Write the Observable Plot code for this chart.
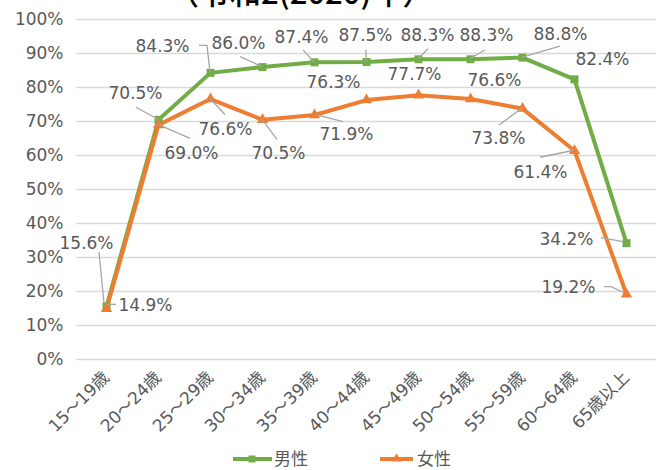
<!DOCTYPE html>
<html>
<head>
<meta charset="utf-8">
<script src="https://cdn.jsdelivr.net/npm/d3@7"></script>
<script src="https://cdn.jsdelivr.net/npm/@observablehq/plot@0.6"></script>
<style>
  html, body { margin: 0; padding: 0; background: #fff; }
  #wrap { position: relative; width: 665px; height: 470px; overflow: hidden; font-family: "DejaVu Sans", "Noto Sans CJK JP", sans-serif; }
  #title { position: absolute; left: 168px; top: -25px; font-family: "Noto Sans CJK JP", sans-serif; font-size: 31px; line-height: 31px; font-weight: 500; color: #000; white-space: nowrap; }
  #chart { position: absolute; left: 0; top: 0; }
  .leg { position: absolute; top: 447px; height: 22px; display: flex; align-items: center; font-family: "Noto Sans CJK JP", sans-serif; font-size: 17px; color: #595959; line-height: 22px; }
</style>
</head>
<body>
<div id="wrap">
  <div id="chart"></div>
  <div id="title">（令和2(2020)年）</div>
  <div class="leg" style="left:233px"><svg width="41" height="22"><line x1="0" x2="39" y1="12" y2="12" stroke="#70ad47" stroke-width="4"/><rect x="15.5" y="8.5" width="7" height="7" fill="#70ad47"/></svg><span>男性</span></div>
  <div class="leg" style="left:380px"><svg width="37" height="22"><line x1="0" x2="33" y1="12" y2="12" stroke="#ed7d31" stroke-width="4"/><path d="M16.5,6.5 L21.5,14.5 L11.5,14.5 Z" fill="#ed7d31"/></svg><span>女性</span></div>
</div>
<script>
// ---- data ----
const categories = ["15～19歳", "20～24歳", "25～29歳", "30～34歳", "35～39歳", "40～44歳", "45～49歳", "50～54歳", "55～59歳", "60～64歳", "65歳以上"];
const male   = [15.6, 70.5, 84.3, 86.0, 87.4, 87.5, 88.3, 88.3, 88.8, 82.4, 34.2];
const female = [14.9, 69.0, 76.6, 70.5, 71.9, 76.3, 77.7, 76.6, 73.8, 61.4, 19.2];
const yTicks = [0, 0.1, 0.2, 0.3, 0.4, 0.5, 0.6, 0.7, 0.8, 0.9, 1.0];

// ---- layout (pixel offsets of data labels and leader lines, relative to each point) ----
const maleLabelOffset   = [[-20,-63],[-23,-26],[-48,-26],[-24,-24],[-13,-25],[-1,-26],[9,-24],[16,-24],[38,-23],[28,-20],[-60,-4]];
const femaleLabelOffset = [[39,-3],[33,29],[15,30],[16,34],[32,20],[-33,-18],[-4,-21],[24,-19],[-24,30],[-34,22],[-58,-7]];
const maleLeader = [
  [[-2,-3],[-7,-54]],
  [[0,0],[-22,-12]],
  [[0,0],[-3,-27],[-11,-27]],
  [[0,0],[-22,-10]],
  [[0,0],[-11,-12]],
  [[0,0],[0,-12]],
  [[0,0],[10,-10]],
  [[0,0],[15,-9]],
  [[0,0],[38,-11]],
  null,
  [[-3,-1],[-25,-5]]
];
const femaleLeader = [
  [[1,-4],[10,-4]],
  [[0,0],[32,14]],
  [[0,0],[15,16]],
  [[0,0],[15,20]],
  [[2,0],[29,7]],
  null, null, null,
  [[0,0],[-23,17]],
  [[0,0],[-34,7]],
  [[-2,-1],[-15,-7],[-22,-7]]
];

const GREEN = "#70ad47", ORANGE = "#ed7d31", GRAY = "#595959";

function rows(series, name, offs, leaders) {
  return series.map((v, i) => ({cat: categories[i], v: v / 100, series: name, label: v.toFixed(1) + "%", dx: offs[i][0], dy: offs[i][1], leader: leaders[i]}));
}
const maleRows = rows(male, "男性", maleLabelOffset, maleLeader);
const femaleRows = rows(female, "女性", femaleLabelOffset, femaleLeader);

function leaderMark(data) {
  const d = data.filter(r => r.leader);
  return Plot.dot(d, {
    x: "cat", y: "v",
    render(index, scales, values, dims, context) {
      const ns = "http://www.w3.org/2000/svg";
      const doc = context.document;
      const g = doc.createElementNS(ns, "g");
      for (const i of index) {
        const pts = d[i].leader.map(([dx, dy]) => [values.x[i] + dx, values.y[i] + dy]);
        const p = doc.createElementNS(ns, "path");
        p.setAttribute("d", "M" + pts.map(q => q.join(",")).join("L"));
        p.setAttribute("fill", "none");
        p.setAttribute("stroke", "#a6a6a6");
        p.setAttribute("stroke-width", "1.3");
        g.appendChild(p);
      }
      return g;
    }
  });
}

function labelMarks(data) {
  return data.map(r => Plot.text([r], {x: "cat", y: "v", text: "label", dx: r.dx, dy: r.dy, fill: GRAY, fontSize: 17, textAnchor: "middle", lineAnchor: "middle"}));
}

const chart = Plot.plot({
  width: 665, height: 470,
  marginTop: 19, marginRight: 9, marginBottom: 111, marginLeft: 76,
  style: {fontFamily: "'DejaVu Sans', 'Noto Sans CJK JP', sans-serif", fontSize: "17px", color: GRAY, background: "transparent", overflow: "visible"},
  x: {type: "point", domain: categories, padding: 0.5, label: null},
  y: {domain: [0, 1], label: null},
  marks: [
    Plot.ruleY(yTicks, {stroke: "#d9d9d9", strokeWidth: 1.3}),
    Plot.axisY({ticks: yTicks, tickFormat: d3.format(".0%"), tickSize: 0, tickPadding: 13, fontSize: 17, fill: GRAY, label: null}),
    Plot.axisX({tickRotate: -45, tickSize: 0, tickPadding: 15, fontSize: 17, fill: GRAY, label: null}),
    Plot.line(maleRows, {x: "cat", y: "v", stroke: GREEN, strokeWidth: 4, strokeLinejoin: "round"}),
    Plot.line(femaleRows, {x: "cat", y: "v", stroke: ORANGE, strokeWidth: 4, strokeLinejoin: "round"}),
    Plot.dot(maleRows, {x: "cat", y: "v", symbol: "square", r: 4.5, fill: GREEN}),
    Plot.dot(femaleRows, {x: "cat", y: "v", symbol: "triangle", r: 4.2, fill: ORANGE}),
    leaderMark(maleRows),
    leaderMark(femaleRows),
    ...labelMarks(maleRows),
    ...labelMarks(femaleRows)
  ]
});
document.getElementById("chart").appendChild(chart);
</script>
</body>
</html>
